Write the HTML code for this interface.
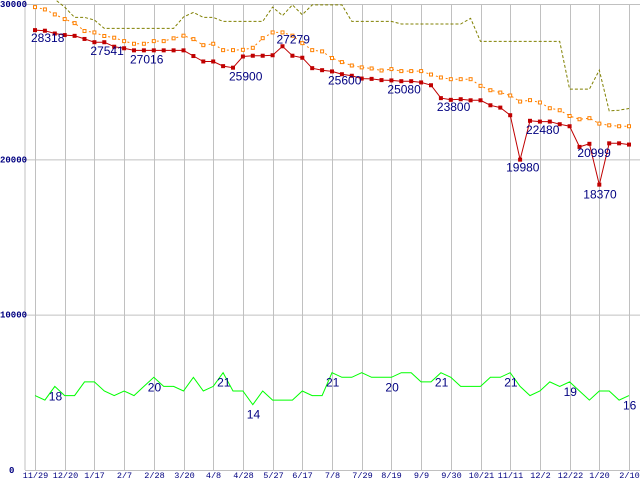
<!DOCTYPE html>
<html><head><meta charset="utf-8"><style>
html,body{margin:0;padding:0;background:#fff;}
svg{display:block;font-family:"Liberation Sans",sans-serif;}
</style></head><body>
<svg id="chart" width="640" height="480" viewBox="0 0 640 480" xmlns="http://www.w3.org/2000/svg">
<g id="grid"></g>
<g id="series"></g>
<g id="labels"></g>
</svg>
<script>
const xTickLabels = ["11/29","12/20","1/17","2/7","2/28","3/20","4/8","4/28","5/27","6/17","7/8","7/29","8/19","9/9","9/30","10/21","11/11","12/2","12/22","1/20","2/10"];
const yTicks = [0,10000,20000,30000];
const redValues = [28318,28280,28100,28000,27950,27750,27541,27540,27250,27150,27016,27016,27016,27016,27016,27016,26650,26300,26300,26000,25900,26620,26670,26670,26700,27279,26670,26540,25870,25740,25660,25480,25380,25200,25180,25100,25080,25030,25030,24950,24770,23940,23830,23870,23800,23800,23480,23330,22840,19980,22480,22430,22430,22260,22130,20800,20999,18370,21030,21030,20950];
const orangeValues = [29800,29650,29330,29030,28770,28260,28170,27940,27830,27610,27440,27440,27610,27610,27790,27960,27740,27350,27440,27030,27030,27050,27180,27800,28170,28170,27960,27480,27030,26950,26520,26260,26040,25920,25850,25720,25810,25680,25680,25680,25460,25270,25160,25160,25160,24730,24450,24300,24110,23720,23810,23660,23290,23160,22790,22580,22650,22300,22190,22130,22130];
const oliveValues = [31000,30700,30300,29800,29140,29140,28970,28430,28430,28430,28430,28430,28430,28430,28430,29160,29460,29140,29140,28880,28880,28880,28880,28880,29800,29250,29940,29310,29940,29940,29940,29940,28880,28880,28880,28880,28880,28710,28710,28710,28710,28710,28710,28710,29080,27590,27590,27590,27590,27590,27590,27590,27590,27590,24520,24520,24520,25740,23120,23160,23270];
const greenValues = [16,15,18,16,16,19,19,17,16,17,16,18,20,18,18,17,20,17,18,21,17,17,14,17,15,15,15,17,16,16,21,20,20,21,20,20,20,21,21,19,19,21,20,18,18,18,20,20,21,18,16,17,19,18,19,17,15,17,17,15,16];
const redLabels = [["28318",0],["27541",6],["27016",10],["25900",20],["27279",25],["25600",30],["25080",36],["23800",41],["22480",50],["19980",49],["20999",56],["18370",57]];
const redLabelOffsets = [[-4,12],[-4,13],[-4,13],[-4,13],[-6,-3],[-4,13],[-4,13],[-4,13],[-4,13],[-14,12],[-12,13],[-16,14]];
const greenLabels = [["18",2],["20",12],["21",19],["14",22],["21",30],["20",36],["21",41],["21",48],["19",54],["16",60]];

const NS="http://www.w3.org/2000/svg";
function mk(tag,attrs,parent){const e=document.createElementNS(NS,tag);for(const k in attrs)e.setAttribute(k,attrs[k]);parent.appendChild(e);return e;}
const x0=35, dx=9.9;
function xScale(i){return x0+i*dx;}
function yScale(v){return 470 - v*466/30000;}
function gScale(v){return 468.7 - v*4.57;}
const grid=document.getElementById('grid'), series=document.getElementById('series'), labels=document.getElementById('labels');

let ax=mk('line',{x1:25,y1:0,x2:25,y2:470,stroke:'#c0c0c0'},grid);


yTicks.forEach(v=>{
  const y=yScale(v)+0.5;
  const l=mk('line',{x1:25,y1:y,x2:640,y2:y,stroke:'#c0c0c0'},grid);
  
  
  const t=mk('text',{x:v===0?9:0,y:v===30000?7:yScale(v)+3,'font-size':'9','font-weight':'bold',fill:'#000080','font-family':'Liberation Mono, monospace'},labels);
  t.textContent=String(v);
  
  
});
xTickLabels.forEach((s,k)=>{
  const x=Math.round(xScale(k*3))+0.5;
  const l=mk('line',{x1:x,y1:4,x2:x,y2:470,stroke:'#c0c0c0'},grid);
  
  
  const t=mk('text',{x:x,y:478,'font-size':'8.5','text-anchor':'middle',fill:'#000080','font-family':'Liberation Mono, monospace'},labels);
  t.textContent=s;
  
  
});
function poly(vals,sc,attrs,name){
  const p=mk('polyline',Object.assign({fill:'none',points:vals.map((v,i)=>xScale(i).toFixed(1)+','+sc(v).toFixed(1)).join(' ')},attrs),series);
  
  
}
poly(oliveValues,yScale,{stroke:'#808000','stroke-dasharray':'3,2'},'max-price-line');
poly(orangeValues,yScale,{stroke:'#ff8000','stroke-dasharray':'2,3'},'average-price-line');
orangeValues.forEach((v,i)=>{
  const r=mk('rect',{x:xScale(i)-1.5,y:yScale(v)-1.5,width:3,height:3,fill:'#fff',stroke:'#ff8000'},series);
  
  
});
poly(redValues,yScale,{stroke:'#c00000'},'min-price-line');
redValues.forEach((v,i)=>{
  const r=mk('rect',{x:xScale(i)-2,y:yScale(v)-2,width:4,height:4,fill:'#c00000'},series);
  
  
});
poly(greenValues,gScale,{stroke:'#00ff00'},'count-line');
redLabels.forEach((a,k)=>{
  const i=a[1];
  const t=mk('text',{x:xScale(i)+redLabelOffsets[k][0],y:yScale(redValues[i])+redLabelOffsets[k][1],'font-size':'12',fill:'#000080'},labels);
  t.textContent=a[0];
  
  
});
greenLabels.forEach(a=>{
  const i=a[1];
  const t=mk('text',{x:xScale(i)-6,y:gScale(greenValues[i])+14,'font-size':'12',fill:'#000080'},labels);
  t.textContent=a[0];
  
  
});
</script>
</body></html>
